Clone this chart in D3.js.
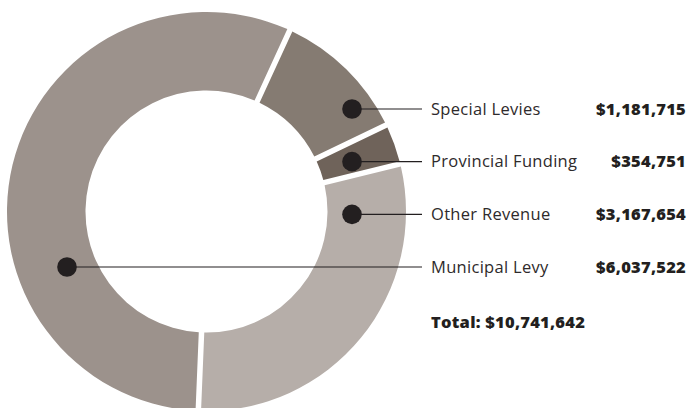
<!DOCTYPE html>
<html>
<head>
<meta charset="utf-8">
<script src="https://cdn.jsdelivr.net/npm/d3@7/dist/d3.min.js"></script>
<style>
  html, body { margin: 0; padding: 0; background: #ffffff; }
  svg { display: block; }
  .label { font-family: "Open Sans", "Noto Sans", sans-serif; font-size: 16.5px; letter-spacing: 0.3px; fill: #2e2a2b; }
  .value { font-family: "Open Sans", "Noto Sans", sans-serif; font-size: 16.5px; letter-spacing: 0.25px; font-weight: 800; fill: #231f20; }
</style>
</head>
<body>
<svg id="chart" width="686" height="408"></svg>
<script>
// Revenue sources, in drawing order (clockwise from the top right)
const categories = ["Special Levies", "Provincial Funding", "Other Revenue", "Municipal Levy"];
const values = [1181715, 354751, 3167654, 6037522];
const colors = ["#857b72", "#6f635a", "#b6aea9", "#9c928c"];
const totalLabel = "Total: $10,741,642";

// Layout
const W = 686, H = 408;
const cx = 206.5, cy = 211.5;
const outerR = 199.5, innerR = 121;
const gap = 5.5;                       // white gap between slices, px
const startDeg = 24.7;                 // first slice boundary, degrees from 12 o'clock
const dotX = [352, 352, 352, 67];      // leader dot x per row
const dotR = 9.8;
const lineEndX = 422, labelX = 431, valueRight = 686;

const fmt = d3.format("$,");

const svg = d3.select("#chart");
const g = svg.append("g").attr("transform", `translate(${cx},${cy})`);

const start = startDeg * Math.PI / 180;
const pie = d3.pie().sort(null).value(d => d.value)
  .startAngle(start).endAngle(start + 2 * Math.PI);

const padR = (outerR + innerR) / 2;
const arc = d3.arc().innerRadius(innerR).outerRadius(outerR)
  .padRadius(padR).padAngle(gap / padR);

const data = categories.map((c, i) => ({ name: c, value: values[i], color: colors[i] }));

g.selectAll("path.slice")
  .data(pie(data))
  .join("path")
  .attr("class", "slice")
  .attr("d", arc)
  .attr("fill", d => d.data.color);

// Rows of labels on the right
const rowY = d3.scalePoint().domain(categories).range([109, 267]);

const rows = svg.append("g");
rows.selectAll("line.leader")
  .data(data)
  .join("line")
  .attr("class", "leader")
  .attr("x1", (d, i) => dotX[i])
  .attr("x2", lineEndX)
  .attr("y1", d => rowY(d.name))
  .attr("y2", d => rowY(d.name))
  .attr("stroke", "#231f20")
  .attr("stroke-width", 1.1);

rows.selectAll("circle.dot")
  .data(data)
  .join("circle")
  .attr("class", "dot")
  .attr("cx", (d, i) => dotX[i])
  .attr("cy", d => rowY(d.name))
  .attr("r", dotR)
  .attr("fill", "#231f20");

rows.selectAll("text.label")
  .data(data)
  .join("text")
  .attr("class", "label")
  .attr("x", labelX)
  .attr("y", d => rowY(d.name))
  .attr("dy", "0.35em")
  .text(d => d.name);

rows.selectAll("text.value")
  .data(data)
  .join("text")
  .attr("class", "value")
  .attr("x", valueRight)
  .attr("y", d => rowY(d.name))
  .attr("dy", "0.35em")
  .attr("text-anchor", "end")
  .text(d => fmt(d.value));

svg.append("text")
  .attr("class", "value")
  .attr("x", labelX)
  .attr("y", 322)
  .attr("dy", "0.35em")
  .text(totalLabel);
</script>
</body>
</html>
